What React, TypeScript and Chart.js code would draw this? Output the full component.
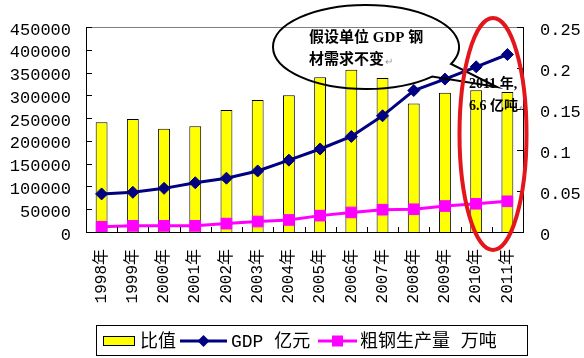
import React, { useEffect, useRef } from "react";
import { Chart, registerables } from "chart.js";

Chart.register(...registerables);

const years = ["1998年", "1999年", "2000年", "2001年", "2002年", "2003年", "2004年", "2005年", "2006年", "2007年", "2008年", "2009年", "2010年", "2011年"];
const ratio = [0.134, 0.138, 0.126, 0.129, 0.149, 0.161, 0.167, 0.189, 0.198, 0.188, 0.157, 0.170, 0.173, 0.171];
const gdp = [83700, 87200, 95900, 108200, 118300, 134100, 157900, 182400, 209900, 255300, 310900, 336000, 363000, 390000];
const steel = [11500, 13500, 13500, 13500, 18500, 23000, 26500, 36000, 43000, 49000, 50000, 57000, 62000, 67500];

const leftMax = 450000;
const leftStep = 50000;
const rightMax = 0.25;
const rightStep = 0.05;

const seriesNames = ["比值", "GDP 亿元", "粗钢生产量 万吨"];
const calloutLines = ["假设单位 GDP 钢", "材需求不变"];
const noteLines = ["2011 年,", "6.6 亿吨"];

const AXIS_FONT = "'Liberation Mono', 'Noto Sans CJK SC', monospace";
const NOTE_FONT = "'Liberation Serif', 'Noto Sans CJK SC', serif";

export default function App() {
  const ref = useRef<HTMLCanvasElement>(null);

  useEffect(() => {
    const canvas = ref.current!;

    const decor = {
      id: "decor",
      afterDatasetsDraw(chart: any) {
        const ctx = chart.ctx as CanvasRenderingContext2D;
        const ca = chart.chartArea;
        const yL = chart.scales.y;
        const yR = chart.scales.y2;
        ctx.save();
        // top border
        ctx.strokeStyle = "#808080";
        ctx.lineWidth = 1;
        ctx.beginPath();
        ctx.moveTo(ca.left, Math.round(ca.top) + 0.5);
        ctx.lineTo(ca.right, Math.round(ca.top) + 0.5);
        ctx.stroke();
        // inward ticks
        ctx.strokeStyle = "#000";
        ctx.beginPath();
        for (let v = 0; v <= leftMax; v += leftStep) {
          const py = Math.round(yL.getPixelForValue(v)) + 0.5;
          ctx.moveTo(ca.left, py);
          ctx.lineTo(ca.left + 6, py);
        }
        for (let i = 0; i <= Math.round(rightMax / rightStep); i++) {
          const py = Math.round(yR.getPixelForValue(i * rightStep)) + 0.5;
          ctx.moveTo(ca.right, py);
          ctx.lineTo(ca.right - 6, py);
        }
        const n = years.length;
        const w = (ca.right - ca.left) / n;
        for (let i = 0; i <= n; i++) {
          const px = Math.round(ca.left + i * w) + 0.5;
          ctx.moveTo(px, ca.bottom);
          ctx.lineTo(px, ca.bottom - 5);
        }
        ctx.stroke();

        // callout ellipse with tail
        const cx = 366, cy = 47, rx = 93, ry = 42;
        const a1 = 0.417, a2 = 0.78;
        ctx.beginPath();
        ctx.ellipse(cx, cy, rx, ry, 0, a2, a1 + Math.PI * 2);
        ctx.lineTo(497, 87);
        ctx.closePath();
        ctx.lineWidth = 2;
        ctx.strokeStyle = "#000";
        ctx.stroke();

        ctx.fillStyle = "#000";
        ctx.textBaseline = "middle";
        ctx.textAlign = "left";
        ctx.font = `bold 15px ${NOTE_FONT}`;
        ctx.fillText(calloutLines[0], 309, 38);
        ctx.fillText(calloutLines[1], 309, 60);
        let mw = ctx.measureText(calloutLines[1]).width;
        ctx.fillStyle = "#999";
        ctx.font = `10px ${NOTE_FONT}`;
        ctx.fillText("↵", 309 + mw + 1, 62);

        ctx.fillStyle = "#000";
        ctx.font = `bold 14px ${NOTE_FONT}`;
        ctx.fillText(noteLines[0], 469, 84);
        ctx.fillText(noteLines[1], 469, 106);
        mw = ctx.measureText(noteLines[1]).width;
        ctx.fillStyle = "#999";
        ctx.font = `10px ${NOTE_FONT}`;
        ctx.fillText("↵", 469 + mw + 1, 108);

        // red ellipse
        ctx.beginPath();
        ctx.ellipse(493, 134, 33.5, 116, 0, 0, Math.PI * 2);
        ctx.strokeStyle = "#E3161B";
        ctx.lineWidth = 4;
        ctx.stroke();

        // legend
        ctx.lineWidth = 1;
        ctx.strokeStyle = "#000";
        ctx.strokeRect(96.5, 325.5, 431, 30);
        const ly = 341;
        ctx.fillStyle = "#FFFF00";
        ctx.fillRect(103, 336, 32, 9);
        ctx.strokeRect(103.5, 336.5, 31, 9);
        ctx.fillStyle = "#000";
        ctx.font = `18px ${AXIS_FONT}`;
        ctx.textBaseline = "middle";
        ctx.fillText(seriesNames[0], 140, ly + 1);

        ctx.strokeStyle = "#000080";
        ctx.lineWidth = 3;
        ctx.beginPath();
        ctx.moveTo(180, ly);
        ctx.lineTo(227, ly);
        ctx.stroke();
        ctx.fillStyle = "#000080";
        ctx.beginPath();
        ctx.moveTo(203.5, ly - 6);
        ctx.lineTo(209.5, ly);
        ctx.lineTo(203.5, ly + 6);
        ctx.lineTo(197.5, ly);
        ctx.closePath();
        ctx.fill();
        ctx.fillStyle = "#000";
        ctx.fillText(seriesNames[1], 231, ly + 1);

        ctx.strokeStyle = "#FF00FF";
        ctx.beginPath();
        ctx.moveTo(318, ly);
        ctx.lineTo(357, ly);
        ctx.stroke();
        ctx.fillStyle = "#FF00FF";
        ctx.fillRect(332, ly - 5.5, 11, 11);
        ctx.fillStyle = "#000";
        ctx.fillText(seriesNames[2], 360, ly + 1);

        ctx.restore();
      },
    };

    const chart = new Chart(canvas, {
      type: "bar",
      data: {
        labels: years,
        datasets: [
          {
            type: "line",
            label: seriesNames[1],
            data: gdp,
            yAxisID: "y",
            borderColor: "#000080",
            backgroundColor: "#000080",
            borderWidth: 3,
            pointStyle: "rectRot",
            pointRadius: 6,
            pointBorderWidth: 1,
            pointBackgroundColor: "#000080",
            pointBorderColor: "#000080",
            tension: 0,
            order: 1,
          },
          {
            type: "line",
            label: seriesNames[2],
            data: steel,
            yAxisID: "y",
            borderColor: "#FF00FF",
            backgroundColor: "#FF00FF",
            borderWidth: 3,
            pointStyle: "rect",
            pointRadius: 7.5,
            pointBorderWidth: 1,
            pointBackgroundColor: "#FF00FF",
            pointBorderColor: "#FF00FF",
            tension: 0,
            order: 2,
          },
          {
            type: "bar",
            label: seriesNames[0],
            data: ratio,
            yAxisID: "y2",
            backgroundColor: "#FFFF00",
            borderColor: "#000000",
            borderWidth: 1,
            barPercentage: 0.38,
            categoryPercentage: 1,
            order: 3,
          },
        ],
      },
      options: {
        responsive: false,
        animation: false,
        events: [],
        layout: { padding: { top: 24, left: 0, right: 0, bottom: 0 } },
        plugins: {
          legend: { display: false },
          tooltip: { enabled: false },
        },
        scales: {
          x: {
            type: "category",
            offset: true,
            grid: { display: false, drawTicks: false },
            border: { display: true, color: "#000", width: 1 },
            ticks: {
              minRotation: 90,
              maxRotation: 90,
              autoSkip: false,
              padding: 17,
              color: "#000",
              font: { family: AXIS_FONT, size: 16 },
            },
            afterFit: (s: any) => {
              s.height = 126;
            },
          },
          y: {
            type: "linear",
            position: "left",
            min: 0,
            max: leftMax,
            grid: { display: false, drawTicks: false },
            border: { display: true, color: "#000", width: 1 },
            ticks: {
              stepSize: leftStep,
              autoSkip: false,
              padding: 15,
              labelOffset: 3,
              color: "#000",
              font: { family: AXIS_FONT, size: 17 },
              callback: (v: any) => String(v),
            },
            afterFit: (s: any) => {
              s.width = 86;
            },
          },
          y2: {
            type: "linear",
            position: "right",
            min: 0,
            max: rightMax,
            grid: { display: false, drawTicks: false },
            border: { display: true, color: "#000", width: 1 },
            ticks: {
              stepSize: rightStep,
              autoSkip: false,
              padding: 17,
              labelOffset: 3,
              color: "#000",
              font: { family: AXIS_FONT, size: 17 },
              callback: (v: any) => String(Number(Number(v).toFixed(2))),
            },
            afterFit: (s: any) => {
              s.width = 61;
            },
          },
        },
      },
      plugins: [decor],
    });
    return () => chart.destroy();
  }, []);

  return (
    <canvas
      ref={ref}
      width={584}
      height={358}
      style={{ position: "fixed", left: 0, top: 0, width: 584, height: 358, background: "#fff" }}
    />
  );
}
